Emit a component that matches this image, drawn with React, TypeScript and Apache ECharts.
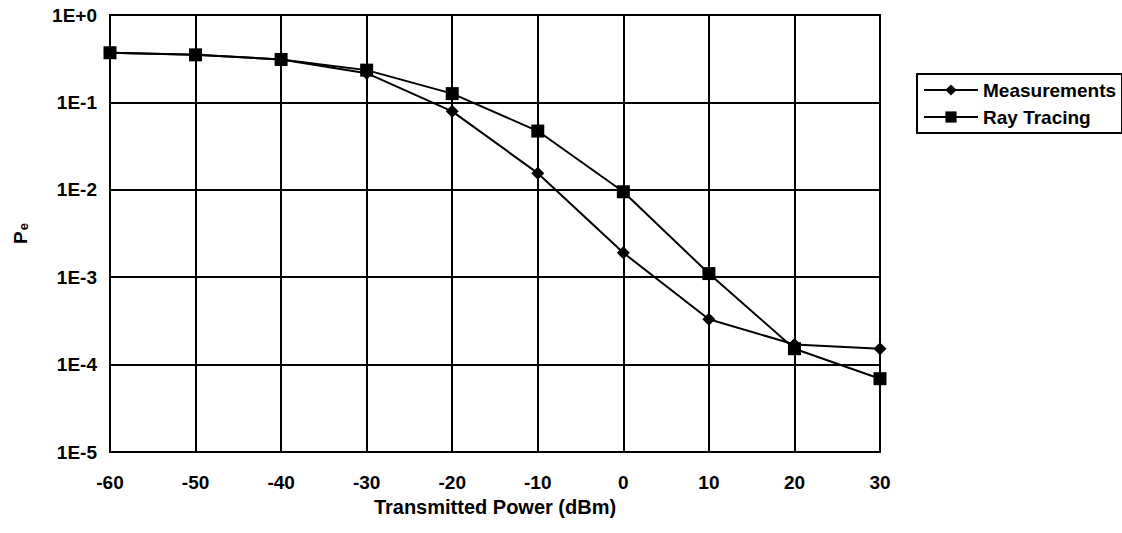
import React, { useEffect, useRef } from "react";
import * as echarts from "echarts";

const powers = [-60, -50, -40, -30, -20, -10, 0, 10, 20, 30];
const measurements = [0.37, 0.35, 0.31, 0.216, 0.079, 0.0155, 0.0019, 0.00033, 0.00017, 0.000152];
const rayTracing = [0.37, 0.35, 0.31, 0.234, 0.126, 0.047, 0.0095, 0.0011, 0.000152, 0.000069];
const seriesNames = ["Measurements", "Ray Tracing"];
const xTitle = "Transmitted Power (dBm)";

const FONT = "'Liberation Sans', Arial, sans-serif";

export default function App() {
  const ref = useRef<HTMLDivElement>(null);
  useEffect(() => {
    if (!ref.current) return;
    const chart = echarts.init(ref.current, null, { renderer: "svg" });
    const text = { color: "#000", fontFamily: FONT, fontSize: 19, fontWeight: "bold" as const };
    chart.setOption({
      animation: false,
      backgroundColor: "#fff",
      textStyle: { fontFamily: FONT, color: "#000" },
      grid: {
        left: 110,
        right: 242,
        top: 15,
        bottom: 81,
        show: true,
        outerBoundsMode: "none",
        containLabel: false,
        borderColor: "#000",
        borderWidth: 2,
        backgroundColor: "transparent",
      },
      legend: {
        orient: "vertical",
        left: 917,
        top: 74,
        padding: [6, 6, 6, 6],
        itemGap: 7,
        itemWidth: 54,
        itemHeight: 14,
        borderColor: "#000",
        borderWidth: 2,
        textStyle: { ...text, lineHeight: 20 },
        data: seriesNames,
      },
      xAxis: {
        type: "value",
        min: -60,
        max: 30,
        interval: 10,
        name: xTitle,
        nameLocation: "middle",
        nameGap: 44,
        nameTextStyle: { ...text, fontSize: 20 },
        axisLine: { show: true, lineStyle: { color: "#000", width: 2 } },
        axisTick: { show: false },
        axisLabel: { ...text, margin: 21 },
        splitLine: { show: true, lineStyle: { color: "#000", width: 2 } },
      },
      yAxis: {
        type: "log",
        logBase: 10,
        min: 1e-5,
        max: 1,
        interval: 1,
        name: "{p|P}{e|e}",
        nameLocation: "middle",
        nameGap: 80,
        nameRotate: 90,
        nameTextStyle: {
          rich: {
            p: { ...text, fontSize: 19, lineHeight: 19, verticalAlign: "top" },
            e: { ...text, fontSize: 13, lineHeight: 13, padding: [12, 0, 0, 1], verticalAlign: "bottom" },
          },
        },
        axisLine: { show: true, lineStyle: { color: "#000", width: 2 } },
        axisTick: { show: true, inside: false, length: 5, lineStyle: { color: "#000", width: 2 } },
        minorTick: { show: false },
        axisLabel: {
          ...text,
          margin: 13,
          formatter: (v: number) => {
            const e = Math.round(Math.log10(v));
            return e >= 0 ? "1E+" + e : "1E" + e;
          },
        },
        splitLine: { show: true, lineStyle: { color: "#000", width: 2 } },
      },
      series: [
        {
          name: seriesNames[0],
          type: "line",
          data: powers.map((p, i) => [p, measurements[i]]),
          symbol: "diamond",
          symbolSize: 13,
          itemStyle: { color: "#000" },
          lineStyle: { color: "#000", width: 2 },
          z: 2,
        },
        {
          name: seriesNames[1],
          type: "line",
          data: powers.map((p, i) => [p, rayTracing[i]]),
          symbol: "rect",
          symbolSize: 13,
          itemStyle: { color: "#000" },
          lineStyle: { color: "#000", width: 2 },
          z: 3,
        },
      ],
    });
    return () => chart.dispose();
  }, []);
  return (
    <div
      ref={ref}
      style={{ position: "fixed", left: 0, top: 0, width: 1122, height: 533, background: "#fff" }}
    />
  );
}
